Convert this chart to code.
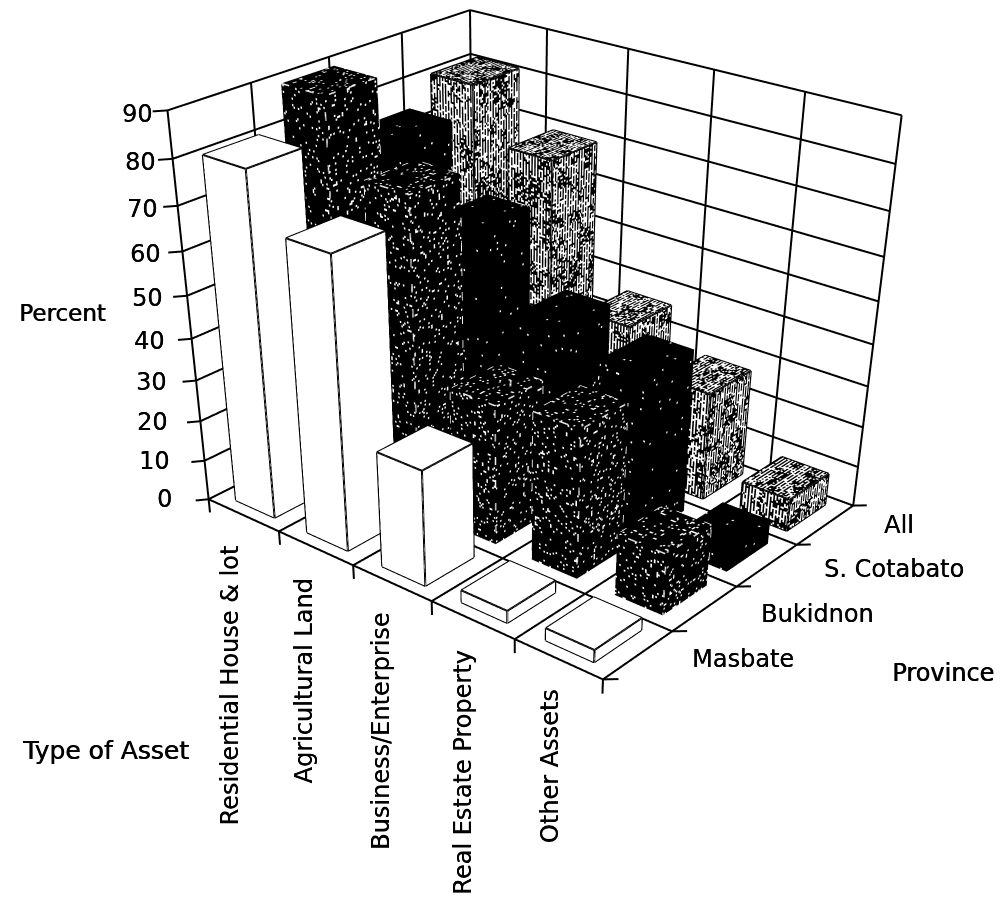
import numpy as np, plotly.graph_objects as go

assets=["Residential House &amp; lot","Agricultural Land","Business/Enterprise","Real Estate Property","Other Assets"]
provinces=["Masbate","Bukidnon","S. Cotabato","All"]
masbate=[81,69,28,3,3]
bukidnon=[90,74.5,34,36,15]
s_cotabato=[75,60.5,44,40,6]
all_prov=[81,69,36,26.5,8]
percent_ticks=list(range(0,100,10))

W,H=995,1600
R=[(-0.25,5.25),(-0.25,4.25),(-4,92)]
EYE=(1.975,-2.407,1.364);CENTER=(1.420,-1.750,0.699);ASPECT=(1,0.829,0.746)

def hsh(a,b,k):
    v=np.sin(a*12.9898+b*78.233+k*37.719)*43758.5453
    return v-np.floor(v)

WX,WY=0.55,0.68
EPS=0.004
class M:
    def __init__(s): s.v=[];s.f=[];s.n=0
    def quad(s,o,u,v,a0,a1,b0,b1):
        o,u,v=map(np.array,(o,u,v))
        s.v+=[o+u*a0+v*b0,o+u*a1+v*b0,o+u*a1+v*b1,o+u*a0+v*b1]
        n=s.n;s.f+=[(n,n+1,n+2),(n,n+2,n+3)];s.n+=4
    def trace(s,color,name):
        V=np.array(s.v);F=np.array(s.f)
        return go.Mesh3d(x=V[:,0],y=V[:,1],z=V[:,2],i=F[:,0],j=F[:,1],k=F[:,2],color=color,flatshading=True,name=name,hoverinfo='skip',
            lighting=dict(ambient=1,diffuse=0,specular=0,roughness=1,fresnel=0))

def add_bar(base,over,cx,cy,h,style,seed):
    x0,x1=cx-WX/2,cx+WX/2;y0,y1=cy-WY/2,cy+WY/2
    faces=[((x0,y0,h),(WX,0,0),(0,WY,0),(0,0,.1),30,30),
           ((x0,y0,0),(WX,0,0),(0,0,h),(0,-EPS,0),30,max(1,int(h*2.2))),
           ((x1,y0,0),(0,WY,0),(0,0,h),(EPS,0,0),34,max(1,int(h*2.2)))]
    for fi,(o,u,v,off,nu,nv) in enumerate(faces):
        base.quad(o,u,v,0,1,0,1)
        if style=='white': continue
        aa,bb=np.meshgrid(np.arange(nu),np.arange(nv),indexing='ij')
        q=hsh(aa+seed,bb+0.37,fi)
        if style=='speck': mask=q>0.925
        elif style=='solid': mask=q>0.992
        else:
            blot=hsh(aa//5+seed,bb//5+.11,fi+7)
            prob=np.where(aa%2==0,0.8,0.06+0.5*(blot>0.6))
            mask=q<prob
        o2=np.array(o)+np.array(off)
        for a,b in zip(aa[mask],bb[mask]):
            over.quad(o2,u,v,a/nu,(a+1)/nu,b/nv,(b+1)/nv)

def bar_edges(lx,ly,lz,cx,cy,h):
    x0,x1=cx-WX/2,cx+WX/2;y0,y1=cy-WY/2,cy+WY/2
    segs=[((x0,y0,h),(x1,y0,h)),((x1,y0,h),(x1,y1,h)),((x1,y1,h),(x0,y1,h)),((x0,y1,h),(x0,y0,h)),
          ((x0,y0,0),(x0,y0,h)),((x1,y0,0),(x1,y0,h)),((x1,y1,0),(x1,y1,h)),
          ((x0,y0,0),(x1,y0,0)),((x1,y0,0),(x1,y1,0))]
    for a,b in segs:
        lx+=[a[0],b[0],None];ly+=[a[1],b[1],None];lz+=[a[2],b[2],None]

fig=go.Figure()
rows=[(masbate,'white','#ffffff','#000000',dict(color='#000000',width=4)),
      (bukidnon,'speck','#000000','#ffffff',dict(color='#f0f0f0',width=3,dash='dot')),
      (s_cotabato,'solid','#000000','#ffffff',None),
      (all_prov,'dots','#ffffff','#000000',dict(color='#000000',width=4))]
for j,(vals,style,bc,oc,el) in enumerate(rows):
    base,over=M(),M();lx,ly,lz=[],[],[]
    for i,v in enumerate(vals):
        add_bar(base,over,i+.5,j+.5,v,style,i*31+j*17)
        bar_edges(lx,ly,lz,i+.5,j+.5,v)
    fig.add_trace(base.trace(bc,provinces[j]))
    if over.n: fig.add_trace(over.trace(oc,provinces[j]+" texture"))
    if el: fig.add_trace(go.Scatter3d(x=lx,y=ly,z=lz,mode='lines',hoverinfo='skip',line=el))

gx,gy,gz=[],[],[]
def L(a,b):
    gx.extend([a[0],b[0],None]);gy.extend([a[1],b[1],None]);gz.extend([a[2],b[2],None])
for z in percent_ticks:
    L((0,0,z),(0,4,z));L((0,4,z),(5,4,z))
    L((0,0,z),(-0.08,-0.10,z))
for y in range(5):
    L((0,y,0),(0,y,90));L((0,y,0),(5,y,0))
    L((5,y,0),(5.10,y+0.09,0))
for x in range(6):
    L((x,4,0),(x,4,90));L((x,0,0),(x,4,0))
    L((x,0,0),(x,0,-3.5))
fig.add_trace(go.Scatter3d(x=gx,y=gy,z=gz,mode='lines',hoverinfo='skip',line=dict(color='black',width=4)))

SH="0.35px 0 0 black"
SHB="0.7px 0 0 black"
font=dict(family='DejaVu Sans',size=24,color='black',shadow=SH)
ann3=[]
for z in percent_ticks:
    ann3.append(dict(x=0,y=0,z=z,text=str(z),showarrow=False,xanchor='right',xshift=-35+23*z/90,yshift=-4*z/90,font=font))
for i,a in enumerate(assets):
    ann3.append(dict(x=i+.5,y=0,z=0,text=a,showarrow=False,textangle=-90,yanchor='top',yshift=-28,xshift=-8-(4-i)*1.2,font=font))
prov_shift=[(18,-28),(22,-27),(25,-24),(29,-19)]
for j,p in enumerate(provinces):
    ann3.append(dict(x=5,y=j+1,z=0,text=p,showarrow=False,xanchor='left',xshift=prov_shift[j][0],yshift=prov_shift[j][1],font=font))
def pa(px,py,t,size):
    return dict(xref='paper',yref='paper',x=(px-8)/W,y=1-(py-8)/H,text=t,showarrow=False,xanchor='left',yanchor='middle',
                font=dict(family='DejaVu Sans',size=size,color='black',shadow=SHB))
fig.update_layout(width=W,height=H,margin=dict(l=0,r=0,t=0,b=0),showlegend=False,paper_bgcolor='white',
 scene=dict(domain=dict(x=[0,1],y=[0,1]),aspectmode='manual',aspectratio=dict(x=ASPECT[0],y=ASPECT[1],z=ASPECT[2]),
 camera=dict(eye=dict(x=EYE[0],y=EYE[1],z=EYE[2]),center=dict(x=CENTER[0],y=CENTER[1],z=CENTER[2]),up=dict(x=0,y=0,z=1)),
 xaxis=dict(visible=False,range=R[0]),yaxis=dict(visible=False,range=R[1]),zaxis=dict(visible=False,range=R[2]),annotations=ann3),
 annotations=[pa(17,313,"Percent",23),pa(20,750,"Type of Asset",25),pa(890,673,"Province",24)])
fig.write_html("out.html")
